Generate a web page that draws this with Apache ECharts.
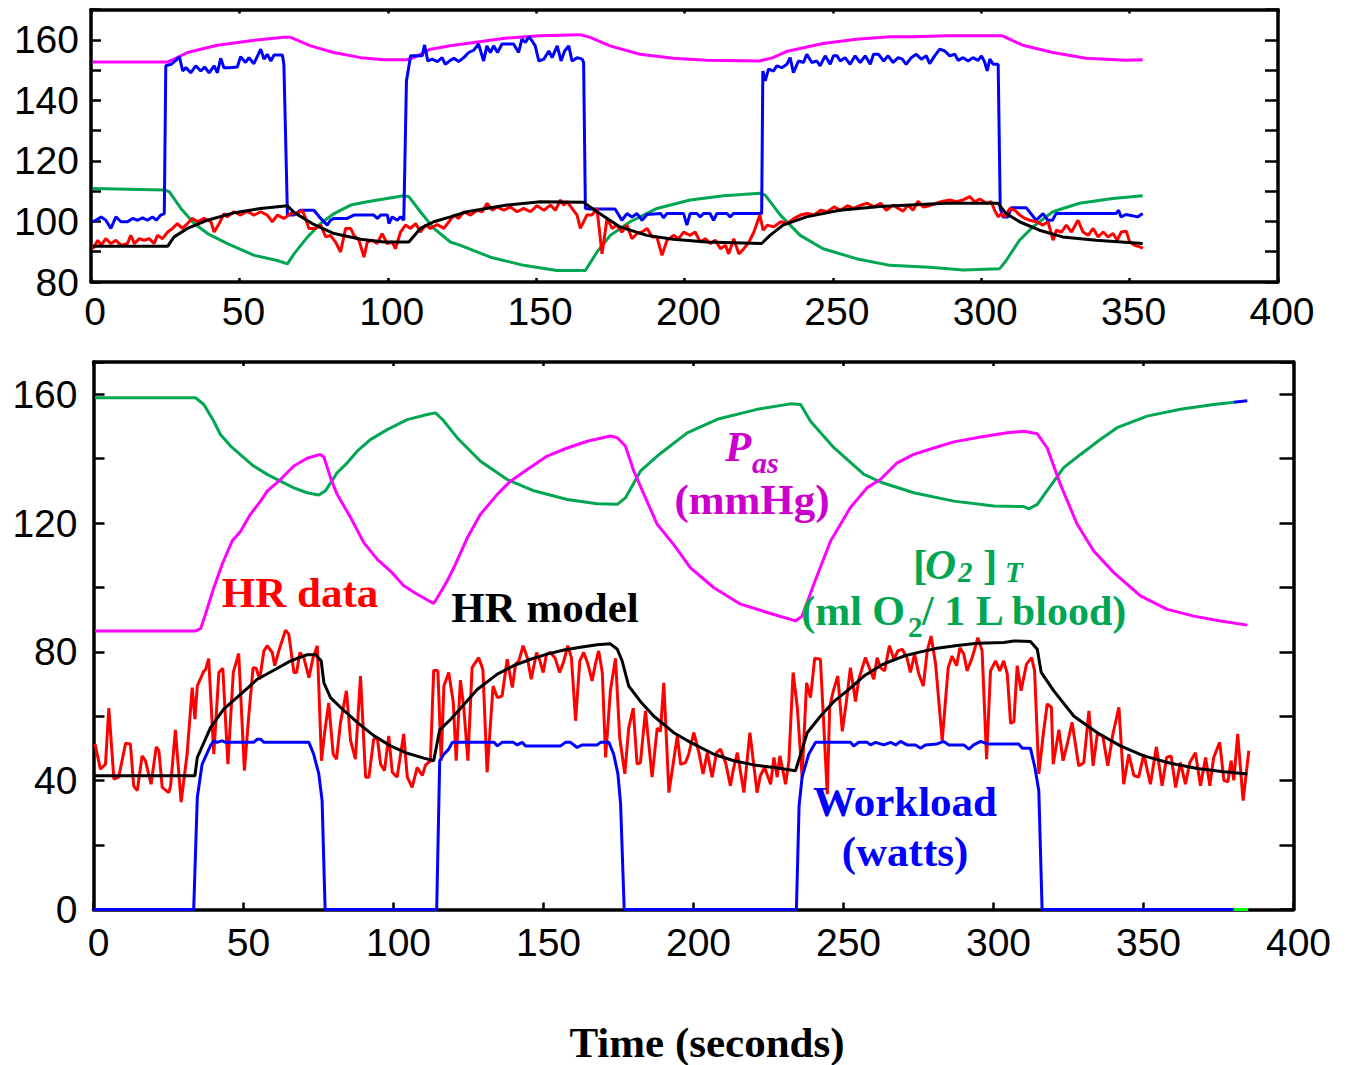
<!DOCTYPE html>
<html>
<head>
<meta charset="utf-8">
<script src="https://cdn.jsdelivr.net/npm/echarts@6/dist/echarts.min.js"></script>
<style>
  html, body { margin: 0; padding: 0; background: #ffffff; }
  #chart { width: 1351px; height: 1065px; }
</style>
</head>
<body>
<div id="chart"></div>
<script>
// ---- tick labels ----
const xTickLabels = [0, 50, 100, 150, 200, 250, 300, 350, 400];
const topYTickLabels = [80, 100, 120, 140, 160];
const bottomYTickLabels = [0, 40, 80, 120, 160];

// ---- upper panel: recorded session (time s, value) ----
const topPas = [[0.6,152.7],[25.8,152.7],[28,153.6],[32.5,155.8],[42.6,158.2],[53.8,159.7],[65,160.8],[67.3,160.8],[74,158],[81.8,155.8],[90.9,154.1],[98.7,153.4],[106.5,153.4],[108.8,154.1],[114.4,156.9],[121.1,158],[129,159.1],[140.2,160.6],[151.4,161.3],[164.9,161.7],[168.2,160.8],[174.9,158],[185,155.2],[196.2,153.9],[207.4,153.2],[225.3,153],[229.8,154.1],[234.3,156.1],[246.7,158.8],[257.9,160.2],[269.2,161],[277,161],[288.2,161.3],[307.2,161.3],[310.6,159.7],[314,158.2],[324.1,155.8],[335.3,153.9],[348.8,153.2],[354.4,153.4]];

const topWork = [[0.6,99.9],[1.7,100.4],[3.4,101.5],[5,100.4],[6.7,97.7],[8.4,101.5],[10.1,99.9],[12.3,99.9],[14,101],[15.7,100.4],[17.4,101.2],[19,100.4],[20.7,101.5],[22,100.4],[23.5,102.1],[24.7,102.6],[25.2,151.4],[27,151.9],[28.6,153.2],[29.8,154.4],[30.9,149.7],[32,150.8],[33.6,149.1],[35.3,151.4],[37,149.7],[38.3,151],[39.8,149.1],[41.5,151.4],[42.6,149.1],[43.7,153.9],[44.8,150.8],[46.5,150.8],[49.3,151],[50.4,154.4],[52.1,152.5],[53.2,154.1],[54.9,152.1],[57.2,156.9],[58.3,153.6],[59.4,155.2],[60.6,153],[61.7,155],[64.5,155],[65,151.9],[66.2,102.1],[68.4,102.1],[70.6,103.7],[75.1,103.7],[77.4,101],[79.6,98.8],[80.7,100.4],[81.9,101],[86.3,101],[88.6,102.1],[95.3,102.1],[96.5,101],[97.6,102.1],[99.9,102.1],[100.4,99.3],[101.5,101.5],[103.2,100.4],[104.3,101.5],[105.4,100.4],[106.3,146.4],[107.7,154.7],[111.6,154.7],[112.4,158.3],[113.5,153],[115,153.6],[116.7,152.8],[118.3,154.1],[119.4,151.9],[121.1,153.2],[122.3,153.9],[123.9,152.8],[125.6,154.1],[127.3,155.8],[129,156.6],[130.6,158.6],[132.3,153],[133.4,158],[134.6,155.8],[135.7,158],[137,155.8],[138.5,158.6],[142.4,158.6],[144.1,155.8],[145.2,160.2],[146.4,159.1],[147.5,161],[148.6,159.7],[149.7,158],[150.9,153],[152.6,153.6],[154.3,156.3],[155.4,154.1],[157.1,158],[158.4,153],[159.6,156.3],[161,158],[162.1,153],[163.8,154.1],[165.5,153.6],[166,152.5],[166.6,104.3],[168.2,104.1],[176.6,104.1],[178.9,100.4],[180.6,102.6],[182.3,101.5],[184,102.6],[185.7,100.4],[187.4,102.3],[192,102.6],[192.9,101.2],[194.1,102.6],[199.7,102.6],[200.8,98.8],[201.9,102.6],[204.2,102.6],[205.3,101.5],[206.4,102.6],[208.6,102.6],[209.8,100.4],[210.9,102.6],[214.3,102.6],[215.4,101.5],[216.5,102.6],[226,102.6],[226.4,149.7],[227.2,146.4],[228.3,150.3],[230,149.7],[231.1,151.4],[232.8,150.8],[234.5,151.9],[235.6,154.1],[236.7,149.1],[238.4,153],[240.1,152.5],[241.2,155.2],[242.9,152.5],[244.6,153],[245.7,151.4],[247.4,154.7],[249.1,151.9],[250.2,154.7],[251.4,154.7],[252.5,153],[254.1,154.1],[255.8,151.9],[257.5,154.7],[259.2,152.5],[260.9,154.7],[262.6,151.9],[263.7,155.2],[265.4,155.2],[267.1,153],[268.6,154.7],[270.3,152.5],[272,154.1],[273.4,153.6],[274.7,151.9],[276.4,154.1],[278.1,155.2],[279.8,153.6],[281.5,154.7],[282.6,152.1],[284.3,154.7],[286,156.9],[287.7,156.3],[289.4,154.7],[291.1,155.2],[292.2,153.2],[293.9,154.1],[295.6,153],[297.2,154.1],[298.9,153.2],[300.1,154.7],[301.2,152.5],[302,149.7],[302.9,153.6],[304,151.9],[305.7,151.9],[306.4,104.3],[307.3,101.5],[309,101.5],[310.1,104.5],[315.2,104.5],[318.5,100.4],[320.8,102.6],[322.4,100.4],[324,100.4],[325.2,102.6],[345.4,102.6],[346.3,103.7],[347.1,101.5],[348.8,102.3],[352.7,101.5],[354.4,102.6]];

const topO2 = [[0.6,110.9],[24.7,110.4],[26.4,109.8],[30.3,104.3],[34.8,99.3],[39.3,96],[46,92.7],[55,88.8],[62.8,87.1],[66.2,86],[68.4,89.3],[73,94.9],[77.4,99.3],[81.9,102.6],[87.5,105.4],[93.1,106.5],[98.7,107.4],[105.4,108.5],[107.1,108.2],[111,103.2],[115.5,97.7],[121.1,93.2],[124.5,92.1],[134.6,88.2],[145.8,85.5],[157,83.8],[166.6,83.8],[170.5,89.9],[175,95.4],[181.7,99.9],[190.7,104.3],[201.9,107.1],[213.2,108.5],[225.5,109.3],[227.2,108.7],[232.3,102.1],[239,95.4],[246.7,91],[257.9,87.7],[269.2,85.5],[282.6,84.9],[293.9,84],[306.2,84.4],[308.4,87.1],[312.9,93.8],[317.4,98.2],[324.1,103.2],[333.1,106],[344.3,107.6],[354.4,108.5]];

const topHrData = [[0.6,91],[2.3,93.8],[3.4,92.1],[5,94.3],[6.7,92.7],[8.4,93.8],[10.1,92.1],[12.3,92.7],[13.4,95.4],[14.6,92.7],[16.3,94.3],[17.9,93.8],[19.6,94.3],[21.3,92.7],[22.4,95.4],[24.1,94.3],[25.8,96.5],[27.5,97.7],[29.1,99.3],[30.8,97.7],[32.5,99.3],[34.2,101],[35.9,99.9],[38.1,101],[40.4,99.9],[41.5,96.5],[43.2,99.3],[44.8,102.6],[45.9,101.5],[48.2,103.2],[50.4,102.1],[52.6,103.4],[54.9,102.1],[57.2,103.2],[59.4,102.1],[61.1,99.9],[62.8,102.1],[65,101],[67.3,102.6],[69.5,102.6],[71.2,103.7],[72.3,101],[73.4,97.7],[75.7,97.7],[77.4,98.8],[79.1,94.9],[80.7,95.4],[82.4,93.2],[84.1,89.9],[85.8,97.7],[87.5,97.7],[88.6,95.4],[90.3,93.8],[92,88.2],[93.1,93.2],[94.7,93.8],[96.4,92.7],[98.1,96],[99.8,92.7],[101.5,93.2],[102.6,91],[104.3,96.5],[106,98.8],[107.7,97.7],[109.4,99.3],[111,96.5],[112.7,98.8],[114.4,97.7],[116.7,99],[118.9,97.7],[120.6,99.9],[122.3,102.1],[123.9,101],[125.6,103.2],[127.9,102.1],[130.1,103.7],[131.8,103.2],[133.5,106],[135.2,103.7],[136.8,104.8],[139.1,103.7],[141.3,104.8],[143.6,103.2],[145.8,104.3],[148.1,103.2],[150.3,105.2],[152.6,103.7],[154.8,105.4],[156.5,103.7],[158.2,107.1],[159.3,105.4],[160.4,106.5],[162.1,104.3],[163.8,102.1],[164.9,97.7],[167.1,102.1],[168.8,102.1],[170.5,104.3],[172.2,89.3],[173.9,101],[175.6,97.7],[177.2,98.8],[178.9,96.5],[180.6,98.8],[182.3,94.3],[184,96],[185.7,96.5],[187.4,97.7],[189.1,94.9],[190.7,94.9],[192.4,88.8],[194.1,93.8],[196.3,95.4],[198,94.3],[199.7,96.5],[201.9,95.4],[203.6,96.5],[205.3,93.2],[207,94.3],[208.7,92.7],[210.4,93.8],[212.1,91],[213.8,92.1],[214.9,89.3],[216.6,94.3],[218.3,89.3],[220,91],[221.7,93.2],[223.4,96.5],[225.4,102.1],[226.5,97.1],[227.9,98.8],[230.1,98.2],[232.4,99.9],[234.6,99.3],[236.9,101],[239.1,102.1],[241.4,102.6],[243.6,102.1],[245.9,103.7],[248.1,103.2],[250.4,104.8],[252.6,103.7],[254.9,105.2],[257.1,104.3],[259.4,105.4],[261.6,106],[263.9,104.8],[266.1,106],[268,103.7],[270.3,105.4],[272,104.3],[273.7,103.4],[275.3,105.4],[277,103.7],[278.7,106.7],[280.4,104.8],[282.6,105.2],[284.9,106],[287.1,106.7],[289.4,107.1],[291.6,106.5],[293.9,107.1],[296.1,108.2],[297.8,106.5],[299.5,107.4],[301.7,106],[303.4,106.5],[304.5,103.7],[305.7,101.5],[306.8,102.6],[307.9,101.5],[309.6,104.3],[311.3,103.7],[313,102.1],[314.7,101],[316.3,100.4],[318.6,99.9],[320.8,98.8],[322.5,99.9],[324.2,93.8],[325.3,97.1],[327,96.5],[328.7,98.8],[330.4,96.5],[332.6,100.4],[334.3,96.5],[336,95.4],[337.7,97.7],[339.4,94.9],[341.1,96.5],[342.7,94.9],[344.4,96],[345.8,93.8],[347.2,96.5],[348.9,96.8],[350,93.2],[351.7,92.1],[353.4,91.6],[354.5,91.2]];

const topHrModel = [[0.6,91.8],[25.8,91.8],[28,94.9],[32.5,97.7],[39.3,100.4],[48.3,102.9],[57.2,104.3],[66.2,105.2],[68.4,103],[75.1,99],[81.9,96],[90.9,94.1],[98.7,93.2],[107.1,93.2],[111,97.7],[115.5,99.9],[121.1,101.5],[126.7,103.2],[140.2,105.4],[151.4,106.5],[166,106.3],[170.5,103.2],[178.3,98.2],[187.3,95.4],[196.2,94.1],[207.4,93.2],[226,92.7],[228.8,95.4],[233.2,98.8],[241.1,101.5],[252.3,103.7],[265.8,104.9],[288.2,106],[305.6,106],[308.4,102.6],[312.9,99.9],[319.6,97.1],[327.4,94.9],[338.7,93.8],[354.4,92.7]];

// ---- lower panel: model simulation ----
const botO2 = [[0.5,158.9],[34,158.9],[36.8,156.8],[40.1,151.6],[42.3,147.5],[45.7,143.9],[50.1,140.3],[53.4,137.7],[57.9,135.1],[62.3,133],[66.8,130.9],[71.2,129.4],[75.1,128.7],[77.3,130],[81.2,135.6],[84.6,138.7],[87.9,142.3],[92.3,145.9],[97.9,149],[104.6,152.1],[111.2,153.7],[114,154.2],[116.5,152],[121.2,146.5],[129,139.2],[137.9,133.5],[146.8,130],[157.9,127.3],[167.9,126],[174.6,125.8],[177.3,127.8],[182.3,136.1],[187.9,140.8],[197.9,148],[207.9,152.2],[221.2,155.3],[232.3,157],[235.7,156.8],[239,151.6],[246.8,143.4],[256.8,135.1],[263,132.5],[273.4,129.4],[286.8,126.8],[300.1,125.3],[310.1,125.1],[311.8,124.4],[314.6,125.8],[319,131.5],[323.4,137.2],[329,141.3],[335.7,146],[341.2,149.6],[351.2,153.2],[362.3,155.3],[373.4,156.8],[380.1,157.5]];
const botO2Tail = [[380.1,157.5],[384.6,158]];

const botPas = [[0.5,86.5],[34,86.5],[35.7,87.2],[37.3,91.6],[40.1,99.9],[42.9,107.2],[46.2,114.4],[49,117.4],[52.3,122.7],[55.7,126.8],[57.9,129.9],[62.3,133.5],[66.8,137.7],[71.2,140.1],[75.6,141.3],[76.8,140.5],[79,134.1],[81.2,128.9],[85.7,121.7],[90.1,113.9],[94.6,108.7],[99,105.1],[103.4,100.5],[107.9,97.9],[113.4,95],[114.6,96.8],[117.9,102],[120.1,106.1],[124.6,115.4],[129,122.7],[134.6,128.9],[139,133],[144.6,136.6],[151.2,140.8],[157.9,143.3],[164.6,145.4],[172.3,147],[174.6,146.5],[177.3,143.9],[180.1,136.1],[184,127.8],[187.9,119.6],[193.4,113.3],[199,106.1],[206.8,99.9],[215.7,94.8],[226.8,91.6],[234,89.6],[236.2,91.1],[240.1,101],[245.7,114.4],[252.3,124.8],[257.9,131],[262.3,133.5],[267.9,138.7],[273.4,141.3],[280.1,143.3],[286.8,145.2],[295.7,146.7],[304.6,148],[310.1,148.5],[314.6,147.7],[317.9,143.3],[322.3,132],[327.9,119.6],[333.4,111.3],[340.1,104.6],[349,97.4],[357.9,93.2],[366.8,91.1],[375.7,89.6],[384.6,88.3]];

const botHrData = [[0.5,51.4],[2.3,43.6],[4,45.1],[5.1,62.5],[6.8,40.5],[8.4,41.1],[10.7,51.6],[12.3,51.4],[13.4,38.4],[14.6,36.9],[16.2,47.7],[17.3,46.2],[19.2,38.9],[20.9,50.5],[21.8,49.3],[22.9,37.9],[25.1,36.3],[25.7,38.4],[27.3,55.8],[29.2,33.3],[31.2,48.2],[32.9,68.9],[33.8,59.1],[34.6,69.4],[36.8,74.1],[37.3,74.3],[38.4,77.9],[40.1,48.2],[41.8,73.6],[43.1,74.9],[44.8,45.1],[46.6,73.6],[48.4,79.5],[50.3,43.1],[51.8,60.7],[53.2,75.1],[54.2,74.9],[55.4,71.5],[56.8,80.3],[57.9,81.9],[59.6,79.8],[60.4,75.7],[62.1,81.3],[64,86.7],[65.1,85.5],[66.8,73.6],[67.7,73.6],[68.8,79.8],[70.1,78.2],[71.8,72],[73.2,78.2],[74.6,81.9],[76,46.2],[77.1,55.3],[78.4,64.1],[79.9,48.2],[81,46.7],[82.3,57.8],[84.3,67.9],[85.7,52.4],[87.3,46.7],[89,72.5],[90.7,41.1],[91.8,41.1],[93.4,52.9],[94.6,53.4],[95.7,45.1],[97,43.1],[98.4,53.9],[99.6,42.6],[101.2,41.1],[103.4,54.5],[104.6,41.1],[106.2,37.9],[107.9,44.1],[109.6,41.6],[110.7,44.9],[112.3,46.1],[113.4,74.3],[114.8,74.1],[115.9,46.2],[116.8,69.4],[118.4,73.6],[119.9,64.6],[120.9,46.2],[122.3,71.2],[123.4,63],[124.8,46.2],[126.2,75.1],[128.4,78.2],[129.8,74.5],[131.2,42.6],[133.2,69.4],[134.6,65.8],[136.2,66.3],[137.9,77.7],[139.6,68.9],[140.7,76.2],[141.8,77.2],[143.2,81.9],[144.6,78.2],[145.9,71.5],[147.7,79.8],[148.8,77.2],[149.9,73.6],[151,79.3],[152.3,79.8],[153.8,78.2],[155.4,73.6],[156.8,77.2],[158.1,81.9],[159.3,78.2],[160.7,58.6],[162.1,77.2],[163.4,79.8],[164.8,76.2],[166.2,71],[167.3,76.2],[168.4,80.3],[169.6,73.6],[170.7,47.2],[172.3,67.9],[174,78],[175.4,53.4],[177.1,42.1],[178.4,56.3],[179.9,62.5],[181.2,45.1],[182.3,45.6],[184,61.7],[186.2,41.1],[187.9,56.3],[189,55.3],[190.1,70.4],[191.8,36.3],[193.2,45.1],[194.6,53.9],[195.7,45.1],[197.3,45.6],[198.4,48.2],[200.1,54.9],[201.8,48.7],[203.2,42.1],[204.6,48.7],[206.2,41.1],[207.7,48.7],[209,49.8],[210.7,45.6],[212.3,38.4],[213.2,43.1],[214.6,48.7],[216.8,36.3],[218.8,54.9],[221.2,36.3],[222.3,41.6],[223.7,44.1],[225.7,38.9],[226.8,47.2],[227.9,41.1],[228.8,47.7],[230.7,38.9],[231.8,46.2],[233.2,73.6],[234.6,62.8],[236.2,41.1],[237.7,70.4],[239,65.8],[240.4,78],[242.3,77.7],[244.6,35.8],[245.4,62.8],[246.6,67.9],[248.1,72.5],[249.6,55.3],[250.9,64.1],[252.3,75.1],[254,64.6],[255.1,71.5],[257.3,78.2],[259,74.1],[260.1,71.5],[261.2,78.2],[262.3,75.1],[263.7,74.1],[265.3,81.9],[266.8,77.7],[268.1,80.3],[269.6,80.8],[271.2,78],[272.3,73.6],[273.7,79.3],[275.1,73.1],[276.6,69.4],[277.9,80.3],[279.2,84.9],[280.7,76.2],[282.9,52.4],[284.9,75.1],[286.2,78.7],[287.7,75.7],[288.8,81.3],[290.1,79.3],[291.2,74.1],[292.9,78.2],[294.8,84.4],[296.2,80.3],[297.7,46.7],[299,74.1],[300.7,77.2],[302.1,74.1],[303.4,77.2],[304.6,73.1],[305.7,57.8],[306.8,58.3],[307.9,75.7],[309.2,67.9],[311,76.2],[312.7,78.2],[313.7,74.1],[315.1,42.1],[316.6,54.5],[317.9,63.8],[319.3,62.8],[319.9,45.1],[321.8,55.8],[323.2,46.2],[324.6,51.4],[326.2,58.1],[328.4,44.6],[330.1,45.6],[331.8,61.7],[333.2,44.6],[334.6,54.5],[336.4,54],[338.1,44.6],[339.8,54.5],[341.8,62.8],[343.4,38.9],[345.1,48.2],[346.8,41.6],[348.4,41.1],[350.1,48.2],[352.3,38.9],[354.3,50.5],[356.2,38.4],[357.7,47.2],[359.2,47.7],[360.7,37.9],[362.3,45.6],[364,38.9],[365.4,45.6],[367.3,48.7],[369,38.4],[370.7,47.2],[372.1,38.4],[373.4,47.2],[375.4,51.9],[376.8,40.1],[378.1,39.6],[379.2,46.2],[380.1,40.1],[381.4,54.5],[383.2,33.8],[385.1,49.3]];

const botHrModel = [[0,41.5],[33.8,41.5],[34.6,47.2],[39,56.5],[43.4,62.2],[49,66.8],[54.6,71.5],[60.1,74.3],[65.7,77.2],[71.2,79.1],[74,79.1],[75.9,77.2],[76.8,70.4],[79,65.8],[82.3,62.8],[87.9,58.1],[93.4,54],[99,50.8],[104.6,48.5],[110.1,47],[113.4,46.2],[115.4,55.8],[119,59],[123.4,63.6],[127.9,68.3],[134.6,73.1],[140.1,75.7],[145.7,77.7],[151.2,79.3],[156.8,80.6],[162.3,81.4],[167.9,82.2],[172.3,82.5],[174.6,80.8],[176.2,77.2],[178.4,69.4],[182.3,64.6],[186.8,60],[193.4,54.9],[199,51.9],[206.8,48.2],[213.4,46.2],[220.1,44.9],[226.8,44.1],[234,43.1],[235.7,48.2],[237.9,54.9],[242.3,60],[246.8,64.6],[251.2,67.9],[256.8,72.5],[262.3,75.7],[264.6,76.7],[270.1,78.7],[275.7,80],[281.2,81.1],[287.9,82],[294.6,82.7],[303.4,82.9],[306.8,83.4],[312.3,83.2],[314.6,80.8],[315.9,73.6],[320.1,67.9],[326.8,60],[334.6,54.9],[342.3,50.8],[350.1,47.7],[359,45.4],[367.9,43.8],[376.8,42.8],[384.6,42.1]];

const botWork = [[0,0],[33.4,0],[34.6,34.8],[36.2,45.1],[39,50.9],[40.1,52.4],[41.2,51.9],[42.9,52.4],[44,51.9],[53.4,51.9],[54.6,52.9],[55.7,52.9],[56.8,51.9],[71.8,51.9],[73.4,48.2],[75.1,42.1],[76.2,33.8],[77.2,0],[114.4,0],[115.4,46.2],[116.8,48.2],[118.4,49.8],[119.6,51.9],[133.5,51.9],[134.6,50.8],[136.2,51.9],[140,51.9],[141.2,51.1],[142.9,51.9],[144,50.8],[155.7,50.8],[157.3,51.9],[159,51.9],[161.2,50.3],[162.9,51.1],[167.9,51.1],[169,51.9],[171.8,51.9],[173.4,48.2],[174.8,42.1],[175.7,32.8],[176.9,0],[234.3,0],[235.2,32.3],[236.2,41.1],[238.4,48.2],[240.7,51.9],[252.3,51.9],[253.4,50.8],[255.1,51.9],[257.9,51.9],[259,51.1],[260.7,51.9],[263.4,51.1],[265.7,51.9],[267.4,51.1],[269,52.2],[271.2,51.1],[274,51.1],[275.7,50.1],[277.3,51.1],[281.2,51.4],[283.4,52.2],[285.1,51.1],[290.1,51.1],[291.8,49.8],[293.4,51.1],[295.7,52.2],[297.9,51.4],[308.4,51.4],[309.6,50.1],[312.3,50.1],[313.8,44.1],[315.1,36.9],[316.2,0],[380.1,0]];
const botWorkTail = [[380.1,0],[384.9,0]];

// ---- styling ----
const C = {
  red: '#ff0000', blue: '#0000ff', black: '#000000',
  magenta: '#ff00ff', green: '#00a651', lime: '#00ff00',
  pasText: '#cc00cc'
};
const sans = '"Liberation Sans", Arial, Helvetica, sans-serif';
const serif = '"Liberation Serif", "Times New Roman", serif';

function onlyLabels(list) {
  return function (v) { return list.indexOf(v) >= 0 ? String(v) : ''; };
}

// one framed panel: bottom/left axes carry labels, top/right mirror the inward ticks
function frame(grid, yMin, yMax, yStep, yLabels, yTick, xTick, yLabelMargin, xLabelMargin, xShift) {
  const line = { show: true, onZero: false, lineStyle: { color: '#000', width: 3.5 } };
  const xs = [
    {
      type: 'value', gridIndex: grid, position: 'bottom', min: 0, max: 400, interval: 50,
      axisLine: line, splitLine: { show: false },
      axisTick: { show: true, inside: true, length: xTick, lineStyle: { color: '#000', width: 2.5 } },
      axisLabel: { show: true, color: '#000', fontFamily: sans, fontSize: 39, margin: xLabelMargin,
                   padding: [0, 0, 0, xShift], formatter: onlyLabels(xTickLabels) }
    },
    {
      type: 'value', gridIndex: grid, position: 'top', min: 0, max: 400, interval: 50,
      axisLine: line, splitLine: { show: false },
      axisTick: { show: true, inside: true, length: 4, lineStyle: { color: '#000', width: 2.5 } },
      axisLabel: { show: false }
    }
  ];
  const ys = [
    {
      type: 'value', gridIndex: grid, position: 'left', min: yMin, max: yMax, interval: yStep,
      axisLine: line, splitLine: { show: false },
      axisTick: { show: true, inside: true, length: yTick, lineStyle: { color: '#000', width: 2.5 } },
      axisLabel: { show: true, color: '#000', fontFamily: sans, fontSize: 39, margin: yLabelMargin,
                   formatter: onlyLabels(yLabels) }
    },
    {
      type: 'value', gridIndex: grid, position: 'right', min: yMin, max: yMax, interval: yStep,
      axisLine: line, splitLine: { show: false },
      axisTick: { show: true, inside: true, length: yTick + 3, lineStyle: { color: '#000', width: 2.5 } },
      axisLabel: { show: false }
    }
  ];
  return { xs: xs, ys: ys };
}

const topFrame = frame(0, 80, 170, 10, topYTickLabels, 10, 4, 12, 10, 8);
const botFrame = frame(1, 0, 170, 20, bottomYTickLabels, 11, 7, 16, 13, 10);

// axis title under the lower panel
botFrame.xs[0].name = 'Time (seconds)';
botFrame.xs[0].nameLocation = 'middle';
botFrame.xs[0].nameGap = 113;
botFrame.xs[0].nameTextStyle = { fontFamily: serif, fontWeight: 'bold', fontSize: 43, lineHeight: 40,
                                 color: '#000', padding: [0, 0, 0, 27] };

function trace(name, data, color, axisIdx, width) {
  return {
    name: name, type: 'line', data: data,
    xAxisIndex: axisIdx, yAxisIndex: axisIdx,
    showSymbol: false, symbol: 'none', smooth: false, clip: false,
    lineStyle: { color: color, width: width || 3 },
    itemStyle: { color: color },
    emphasis: { disabled: true },
    animation: false
  };
}

// annotations of the lower panel
function txt(text, x, y, color, size, align, italic) {
  return {
    type: 'text', x: x, y: y, z: 50,
    style: {
      text: text, fill: color, align: align || 'center', verticalAlign: 'middle',
      font: (italic ? 'italic ' : '') + 'bold ' + size + 'px ' + serif
    }
  };
}

const option = {
  backgroundColor: '#ffffff',
  animation: false,
  grid: [
    { left: 91, top: 9.5, width: 1187, height: 272.5, containLabel: false, outerBoundsMode: 'none' },
    { left: 93.5, top: 362, width: 1200, height: 547.5, containLabel: false, outerBoundsMode: 'none' }
  ],
  xAxis: topFrame.xs.concat(botFrame.xs),
  yAxis: topFrame.ys.concat(botFrame.ys),
  series: [
    trace('P_as', topPas, C.magenta, 0),
    trace('[O2]T', topO2, C.green, 0),
    trace('Workload', topWork, C.blue, 0),
    trace('HR data', topHrData, C.red, 0),
    trace('HR model', topHrModel, C.black, 0),

    trace('[O2]T', botO2, C.green, 2),
    trace('[O2]T end', botO2Tail, C.blue, 2),
    trace('P_as', botPas, C.magenta, 2),
    trace('HR data', botHrData, C.red, 2),
    trace('Workload', botWork, C.blue, 2),
    trace('Workload end', botWorkTail, C.lime, 2),
    trace('HR model', botHrModel, C.black, 2)
  ],
  graphic: [
    txt('HR data', 300, 592, C.red, 43),
    txt('HR model', 545, 607, C.black, 43),
    txt('P', 725, 446, C.pasText, 43, 'left', true),
    txt('as', 752, 462, C.pasText, 30, 'left', true),
    txt('(mmHg)', 752, 499, C.pasText, 43),
    txt('[', 913, 564, C.green, 43, 'left'),
    txt('O', 925, 564, C.green, 43, 'left', true),
    txt('2', 958, 572, C.green, 29, 'left', true),
    txt(']', 983, 564, C.green, 43, 'left'),
    txt('T', 1005, 572, C.green, 29, 'left', true),
    txt('(ml O', 905, 611, C.green, 42, 'right'),
    txt('2', 908, 627, C.green, 29, 'left'),
    txt('/ 1 L blood)', 922, 611, C.green, 42, 'left'),
    txt('Workload', 905, 801, C.blue, 43),
    txt('(watts)', 905, 851, C.blue, 43)
  ]
};

const chart = echarts.init(document.getElementById('chart'), null, { renderer: 'svg' });
chart.setOption(option);
</script>
</body>
</html>
